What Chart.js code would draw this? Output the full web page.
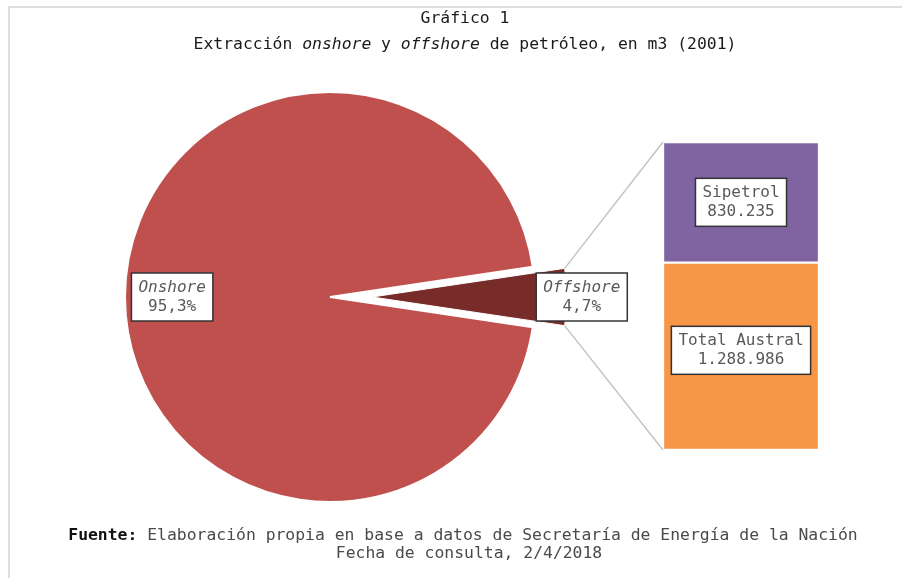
<!DOCTYPE html>
<html>
<head>
<meta charset="utf-8">
<script src="https://cdn.jsdelivr.net/npm/chart.js@4.4.0/dist/chart.umd.min.js"></script>
<style>
html, body { margin: 0; padding: 0; background: #fff; width: 902px; height: 578px; overflow: hidden; }
body { font-family: "DejaVu Sans Mono", monospace; }
#marco { position: absolute; left: 8px; top: 6px; width: 920px; height: 600px; border-top: 2px solid #dedede; border-left: 2px solid #dedede; }
canvas { position: absolute; left: 0; top: 0; }
.txt { position: absolute; left: 4px; width: 922px; text-align: center; font-size: 16.4px; white-space: pre; line-height: 20px; }
</style>
</head>
<body>
<div id="marco"></div>
<canvas id="torta" width="902" height="578"></canvas>
<canvas id="barra" width="902" height="578"></canvas>
<div class="txt" style="top:8px;color:#1a1a1a">Gráfico 1</div>
<div class="txt" style="top:34px;color:#1a1a1a">Extracción <i>onshore</i> y <i>offshore</i> de petróleo, en m3 (2001)</div>
<div class="txt" style="top:525px;left:2px;color:#4a4a4a"><b style="color:#111">Fuente:</b> Elaboración propia en base a datos de Secretaría de Energía de la Nación</div>
<div class="txt" style="top:543px;left:8px;color:#4a4a4a">Fecha de consulta, 2/4/2018</div>
<script>
// Datos del gráfico
const sectores = ['Onshore', 'Offshore'];
const porcentajes = [95.3, 4.7];
const empresas = ['Total Austral', 'Sipetrol'];
const volumenes = [1288986, 830235];

const FUENTE = '"DejaVu Sans Mono", monospace';
const EXPLOSION = 42;        // separación de la porción offshore
const ESCALA_OFFSHORE = 0.95; // la porción separada es algo más chica

function fmtPct(v) { return v.toFixed(1).replace('.', ',') + '%'; }
function fmtMiles(v) { return String(v).replace(/\B(?=(\d{3})+(?!\d))/g, '.'); }

// Caja blanca con borde oscuro, como las etiquetas de Excel
function caja(ctx, x, y, lineas, italica) {
    ctx.save();
    ctx.font = '16px ' + FUENTE;
    const w = Math.max(...lineas.map(l => ctx.measureText(l).width)) + 14;
    const h = lineas.length * 19 + 10;
    ctx.fillStyle = '#fff';
    ctx.fillRect(x - w / 2, y - h / 2, w, h);
    ctx.strokeStyle = '#333';
    ctx.lineWidth = 1.5;
    ctx.strokeRect(x - w / 2, y - h / 2, w, h);
    ctx.fillStyle = '#595959';
    ctx.textAlign = 'center';
    ctx.textBaseline = 'middle';
    lineas.forEach((l, i) => {
        ctx.font = (i === 0 && italica ? 'italic ' : '') + '16px ' + FUENTE;
        ctx.fillText(l, x, y - h / 2 + 5 + 10 + i * 19);
    });
    ctx.restore();
}

// separa la porción offshore (estilo "barra de gráfico circular" de Excel)
const separarOffshore = {
    id: 'separarOffshore',
    afterDatasetUpdate(chart, args) {
        const arc = args.meta.data[1];
        const mid = (arc.startAngle + arc.endAngle) / 2;
        arc.x += Math.cos(mid) * EXPLOSION;
        arc.y += Math.sin(mid) * EXPLOSION;
        arc.outerRadius *= ESCALA_OFFSHORE;
    }
};

const etiquetasTorta = {
    id: 'etiquetasTorta',
    afterDatasetsDraw(chart) {
        const ctx = chart.ctx;
        const arcos = chart.getDatasetMeta(0).data;
        arcos.forEach((arc, i) => {
            const mid = (arc.startAngle + arc.endAngle) / 2;
            const r = i === 0 ? arc.outerRadius * 0.77 : arc.outerRadius + 15;
            caja(ctx, arc.x + Math.cos(mid) * r, arc.y + Math.sin(mid) * r,
                [sectores[i], fmtPct(porcentajes[i])], true);
        });
    }
};

const pieChart = new Chart(document.getElementById('torta'), {
    type: 'pie',
    data: {
        labels: sectores,
        datasets: [{
            data: porcentajes,
            backgroundColor: ['#C0504D', '#772C2A'],
            borderColor: '#fff',
            borderWidth: [2, 1],
            hoverBorderWidth: 2,
            hoverOffset: 0
        }]
    },
    options: {
        responsive: false,
        animation: false,
        events: [],
        rotation: 90 + porcentajes[1] * 3.6 / 2,
        layout: { padding: { left: 124, right: 366, top: 91, bottom: 75 } },
        plugins: { legend: { display: false }, tooltip: { enabled: false } }
    },
    plugins: [separarOffshore, etiquetasTorta]
});

// Líneas de unión entre la porción offshore y la barra, y etiquetas de la barra
const conectores = {
    id: 'conectores',
    afterDatasetsDraw(chart) {
        const ctx = chart.ctx;
        const arc = pieChart.getDatasetMeta(0).data[1];
        const R = arc.outerRadius;
        const abajo = chart.getDatasetMeta(0).data[0];
        const arriba = chart.getDatasetMeta(1).data[0];
        const xb = arriba.x - arriba.width / 2;

        ctx.save();
        ctx.strokeStyle = '#c4c4c4';
        ctx.lineWidth = 1.5;
        ctx.beginPath();
        ctx.moveTo(arc.x + Math.cos(arc.startAngle) * R, arc.y + Math.sin(arc.startAngle) * R);
        ctx.lineTo(xb, arriba.y);
        ctx.moveTo(arc.x + Math.cos(arc.endAngle) * R, arc.y + Math.sin(arc.endAngle) * R);
        ctx.lineTo(xb, abajo.base);
        ctx.stroke();
        ctx.restore();

        [abajo, arriba].forEach((bar, i) => {
            const y = (bar.y + bar.base) / 2 - (i === 0 ? 6 : 0);
            caja(ctx, bar.x, y, [empresas[i], fmtMiles(volumenes[i])], false);
        });
    }
};

const barChart = new Chart(document.getElementById('barra'), {
    type: 'bar',
    data: {
        labels: ['Offshore'],
        datasets: [
            { label: empresas[0], data: [volumenes[0]], backgroundColor: '#F79646' },
            { label: empresas[1], data: [volumenes[1]], backgroundColor: '#8064A2' }
        ]
    },
    options: {
        responsive: false,
        animation: false,
        events: [],
        layout: { padding: { left: 663, right: 83, top: 142, bottom: 128 } },
        datasets: {
            bar: { barPercentage: 1, categoryPercentage: 1, borderColor: '#fff', borderWidth: 1.5, borderSkipped: false }
        },
        scales: {
            x: { stacked: true, display: false },
            y: { stacked: true, display: false, min: 0, max: volumenes[0] + volumenes[1] }
        },
        plugins: { legend: { display: false }, tooltip: { enabled: false } }
    },
    plugins: [conectores]
});
</script>
</body>
</html>
